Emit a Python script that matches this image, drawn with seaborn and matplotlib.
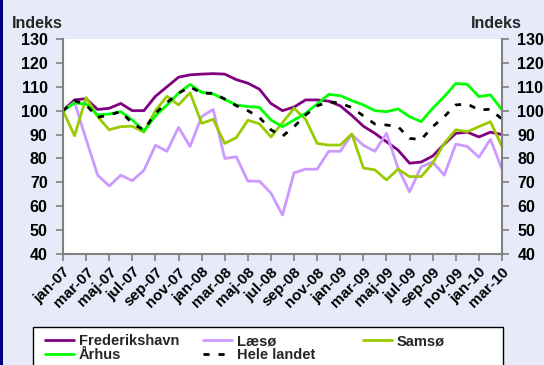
import matplotlib
matplotlib.use("Agg")
import matplotlib.pyplot as plt
from matplotlib.patches import Rectangle
import pandas as pd
import seaborn as sns

# Monthly price index (jan-07 = 100), jan-07 .. mar-10
month_names = ["jan", "feb", "mar", "apr", "maj", "jun",
               "jul", "aug", "sep", "okt", "nov", "dec"]
months = [f"{m}-{y:02d}" for y in (7, 8, 9, 10) for m in month_names][:39]

frederikshavn = [100, 104.5, 105, 100.5, 101, 103, 100, 100, 106, 110,
                 114, 115, 115.3, 115.5, 115.3, 113, 111.5, 109, 103, 100,
                 101.5, 104.5, 104.5, 104, 102, 98, 93.5, 90.5, 87, 83.5,
                 78, 78.5, 81, 86, 90.5, 91, 89, 91, 90]
laesoe = [100, 103.5, 88, 73, 68.5, 73, 70.7, 75, 85.5, 83,
          93, 85, 97.5, 100.5, 80, 80.7, 70.5, 70.5, 65.5, 56.3,
          74, 75.5, 75.5, 83, 83, 90, 85.5, 83, 90.5, 76,
          66, 76.5, 78.5, 73, 86, 85, 80.5, 88, 75.5]
samsoe = [100, 89.5, 105.5, 97.5, 92, 93.3, 93.5, 91, 100, 106,
          102.4, 107.5, 94.7, 96.4, 86.3, 88.7, 96, 94.5, 89, 95,
          101, 96.4, 86.3, 85.6, 85.6, 90.3, 76, 75.2, 71, 75.5,
          72.4, 72.4, 78, 86.3, 92, 91.2, 93.3, 95.4, 85]
aarhus = [100, 103.2, 102.8, 98.2, 98.6, 99.6, 96.1, 91.5, 97.8, 102.4,
          107.3, 111, 107.7, 107, 104.7, 102.4, 101.7, 101.4, 96.1, 93.3,
          96.1, 98.9, 102.8, 106.8, 106.3, 104.2, 102.4, 100, 99.6, 100.7,
          97.5, 95.4, 101, 105.9, 111.4, 111, 105.9, 106.6, 100.3]
hele_landet = [100, 104.2, 102.4, 97.2, 98.2, 99.6, 94.7, 91.9, 98.9, 103.4,
               107.3, 110, 107.3, 107.3, 104.9, 102.1, 100, 97.2, 92, 89.3,
               93.3, 98.2, 102, 103.8, 103.1, 101.3, 97.8, 94.4, 94, 93.3,
               88.4, 87.9, 93.3, 97.5, 102.4, 102.8, 100.3, 100.6, 96.4]

series = {
    "Frederikshavn": frederikshavn,
    "Læsø": laesoe,
    "Samsø": samsoe,
    "Århus": aarhus,
    "Hele landet": hele_landet,
}
colors = {
    "Frederikshavn": "#800080",
    "Læsø": "#CC99FF",
    "Samsø": "#99CC00",
    "Århus": "#00FF00",
    "Hele landet": "#000000",
}

rows = []
for name, vals in series.items():
    for i, v in enumerate(vals):
        rows.append({"idx": i, "month": months[i], "region": name, "value": v})
df = pd.DataFrame(rows)

sns.set_theme(style="white")
plt.rcParams["font.family"] = ["Liberation Sans", "DejaVu Sans"]
plt.rcParams["font.weight"] = "bold"

W, H = 544, 365
BG = "#E7EAF9"
fig = plt.figure(figsize=(W / 100, H / 100), dpi=100, facecolor=BG)


def fx(x):
    return x / W


def fy(y):
    return 1 - y / H


ax = fig.add_axes([fx(63), fy(254), fx(502) - fx(63), fy(39) - fy(254)])
ax.set_facecolor("white")

for name in series:
    sub = df[df["region"] == name]
    dashed = name == "Hele landet"
    sns.lineplot(data=sub, x="idx", y="value", ax=ax, color=colors[name],
                 linewidth=2.0, label=name,
                 linestyle=(0, (2.2, 3.2)) if dashed else "-")

ax.set_xlim(0, len(months) - 1)
ax.set_ylim(40, 130)
ax.set_yticks(range(40, 131, 10))
ax.set_xticks(range(0, len(months), 2))
ax.set_xticklabels(months[::2], rotation=45, ha="right",
                   rotation_mode="anchor", fontsize=11, fontweight="bold")
ax.set_xlabel("")
ax.set_ylabel("")

for side in ("left", "right", "bottom"):
    ax.spines[side].set_visible(True)
    ax.spines[side].set_color("#808080")
    ax.spines[side].set_linewidth(1.5)
ax.spines["top"].set_visible(False)

ax.tick_params(axis="y", which="both", left=True, right=True,
               labelleft=True, labelright=True, direction="out",
               length=5, width=1.2, color="#808080", pad=6,
               labelsize=11.5, labelcolor="black")
ax.tick_params(axis="x", bottom=True, direction="out", length=5, width=1.2,
               color="#808080", pad=3, labelcolor="black")
for lab in ax.get_yticklabels():
    lab.set_fontweight("bold")

handles, labels = ax.get_legend_handles_labels()
ax.get_legend().remove()
hmap = dict(zip(labels, handles))

fig.text(fx(37), fy(24), "Indeks", ha="center", va="center",
         fontsize=11.5, fontweight="bold")
fig.text(fx(496), fy(24), "Indeks", ha="center", va="center",
         fontsize=11.5, fontweight="bold")

# left page border
fig.add_artist(Rectangle((0, 0), fx(3), 1, transform=fig.transFigure,
                         facecolor="#000080", edgecolor="none"))

# legend frame
fig.add_artist(Rectangle((fx(33), fy(380)), fx(503) - fx(33), fy(327) - fy(380),
                         transform=fig.transFigure, facecolor="white",
                         edgecolor="black", linewidth=1.0, zorder=1))

legend_cols = [
    (["Frederikshavn", "Århus"], 45),
    (["Læsø", "Hele landet"], 203),
    (["Samsø"], 363),
]
for names, xpos in legend_cols:
    leg = fig.legend([hmap[n] for n in names], names, loc="upper left",
                     bbox_to_anchor=(fx(xpos), fy(334)),
                     bbox_transform=fig.transFigure, frameon=False,
                     borderpad=0, borderaxespad=0, handlelength=2.0,
                     handletextpad=0.3, labelspacing=0.0,
                     prop={"weight": "bold", "size": 10.5})
    leg.set_zorder(3)

fig.savefig("out.png", dpi=100, facecolor=BG)
